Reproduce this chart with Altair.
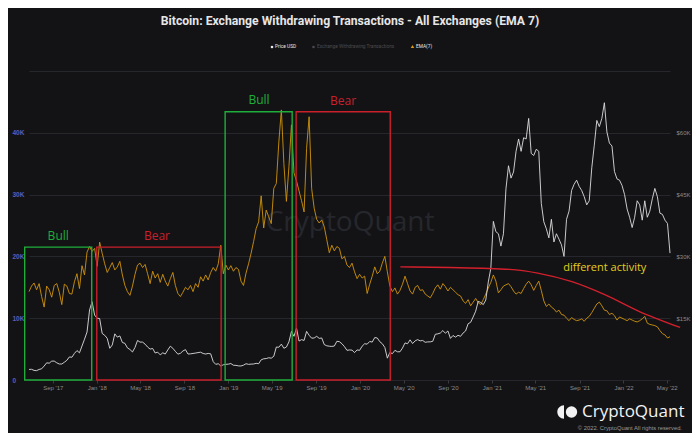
import altair as alt
import pandas as pd

TITLE = "Bitcoin: Exchange Withdrawing Transactions - All Exchanges (EMA 7)"

# weekly sample dates (Tuesdays) from first to last point of the chart
week_dates = pd.date_range("2017-06-27", periods=255, freq="7D").strftime("%Y-%m-%d").tolist()

# EMA(7) of exchange withdrawing transactions, thousands (left axis)
ema_k = [
    14.3, 15.2, 15.7, 14.6, 15.6, 13.5, 11.8, 15.2, 14.6, 13.4,
    15.3, 15.6, 14.2, 12.2, 15.5, 15.2, 14.0, 13.9, 15.9, 17.2,
    14.8, 18.5, 17.0, 20.7, 21.6, 20.8, 21.3, 18.4, 22.3, 20.5,
    18.8, 17.4, 18.2, 19.0, 17.8, 18.3, 19.2, 17.0, 15.3, 14.3,
    13.7, 15.2, 17.1, 18.6, 18.9, 18.2, 18.7, 17.2, 15.6, 17.6,
    16.5, 17.2, 15.8, 17.1, 16.0, 15.2, 16.4, 17.4, 15.3, 14.0,
    13.5, 14.2, 15.0, 14.6, 15.3, 14.3, 15.6, 15.0, 16.7, 16.0,
    17.0, 16.2, 17.4, 18.2, 17.6, 18.8, 21.8, 17.2, 18.6, 17.8,
    18.5, 17.6, 18.2, 17.9, 16.0, 15.3, 17.3, 18.8, 20.5, 22.4,
    24.5, 25.6, 29.8, 24.6, 27.5, 26.4, 25.3, 31.0, 31.8, 38.5,
    43.7, 35.0, 28.9, 34.5, 41.3, 33.5, 32.2, 30.6, 29.0, 27.2,
    37.5, 42.6, 31.0, 27.8, 26.0, 25.4, 25.9, 24.8, 22.7, 20.6,
    21.8, 20.9, 21.6, 21.3, 19.6, 20.0, 18.6, 18.2, 18.9, 17.5,
    16.4, 17.1, 16.5, 16.8, 14.0, 15.5, 16.8, 18.3, 17.2, 17.6,
    18.9, 20.0, 17.5, 15.2, 14.3, 14.9, 13.9, 14.5, 15.5, 16.8,
    15.6, 14.4, 13.9, 15.0, 15.3, 14.5, 14.6, 13.9, 13.6, 13.3,
    14.0, 14.9, 15.4, 14.7, 15.6, 15.1, 14.4, 15.0, 14.6, 14.2,
    13.8, 13.6, 12.8, 12.4, 13.0, 12.0, 12.6, 13.2, 12.5, 12.2,
    13.0, 13.9, 14.9, 15.8, 17.0, 16.0, 14.1, 14.6, 15.2, 15.4,
    15.6, 15.1, 14.4, 13.9, 14.2, 14.0, 14.8, 15.5, 16.0, 15.4,
    14.5, 15.3, 16.0, 14.5, 12.8, 11.9, 12.3, 11.8, 11.5, 11.0,
    11.3, 10.6, 10.5, 10.0, 9.6, 10.1, 9.8, 9.6, 9.7, 9.9,
    9.5, 10.0, 10.3, 10.9, 11.6, 12.3, 12.6, 12.0, 11.3, 11.2,
    10.6, 10.8, 10.4, 9.7, 10.2, 10.0, 9.8, 9.6, 9.9, 9.7,
    9.5, 9.4, 9.6, 9.9, 10.3, 9.2, 9.0, 8.9, 8.8, 8.6,
    8.0, 7.5, 7.3, 6.8, 7.0,
]

# Price USD (right axis), weekly
price_2017 = [2560, 2600, 2330, 2270, 2560, 2720, 3390, 4170, 4080, 4580, 4590, 4170, 3880, 3880,
              4310, 4770, 5600, 5520, 6450, 7140, 6600, 8250, 9900, 11650, 17000, 19000, 15750]
price_2018 = [15000, 14900, 11300, 10850, 10100, 7700, 8500, 11200, 10400, 10700, 9100, 8900, 7800,
              7400, 6800, 7900, 9600, 9200, 9200, 8700, 8000, 7500, 7650, 6550, 6750, 6100,
              6600, 6300, 7300, 8200, 7700, 6950, 6270, 6480, 7050, 7370, 6300, 6350, 6440,
              6540, 6650, 6750, 6430, 6300, 6450, 6350, 4450, 3800, 3950, 3400, 3700, 3800]
price_2019 = [3850, 4000, 3580, 3550, 3430, 3400, 3600, 3950, 3800, 3850, 3880, 4050, 3950,
              4900, 5150, 5200, 5400, 5300, 5750, 8000, 7950, 8700, 7700, 8000, 9250, 11800,
              10600, 12600, 9450, 9800, 9600, 11800, 10850, 10150, 10200, 10600, 10100, 10200, 8600,
              8300, 8200, 8150, 8250, 9400, 9300, 8800, 8100, 7200, 7300, 7250, 6650, 7300, 7200]
price_2020 = [8200, 8800, 8700, 9350, 9200, 10300, 10200, 9300, 8800, 7900, 5300, 6700, 6400,
              7200, 6850, 6850, 7750, 9000, 8800, 9750, 8850, 9500, 9800, 9500, 9600, 9150,
              9250, 9250, 9400, 11100, 11200, 11400, 12000, 11350, 11900, 10100, 10800, 10400, 10850,
              10600, 11400, 11900, 13650, 14000, 15300, 16700, 19100, 18800, 18300, 19400, 23800, 27100]
price_2021 = [38500, 36000, 35500, 32500, 35500, 46400, 52000, 49000, 50500, 55500, 58500, 55500, 58800,
              58500, 63500, 55000, 54500, 56000, 55500, 42900, 38400, 36700, 34500, 39000, 33500, 35500,
              34200, 32800, 30000, 39000, 41000, 46000, 47500, 48500, 47000, 46000, 44500, 42500, 43500,
              51500, 57000, 63000, 61500, 63500, 67300, 60200, 57500, 56800, 50600, 48800, 48500, 47200]
price_2022 = [45000, 41500, 39500, 37000, 39500, 43500, 42500, 38800, 43500, 39500, 41000, 44000, 46500,
              44500, 40500, 40200, 38800, 38000, 30800]

price_usd = price_2017 + price_2018 + price_2019 + price_2020 + price_2021 + price_2022
n = min(len(week_dates), len(ema_k), len(price_usd))
df = pd.DataFrame({
    "date": week_dates[:n],
    "ema": [v * 1000 for v in ema_k[:n]],
    "price": price_usd[:n],
})

# annotation boxes
box_start = ["2017-06-15", "2018-01-01", "2018-12-23", "2019-07-08"]
box_end = ["2017-12-18", "2018-12-12", "2019-06-27", "2020-03-25"]
box_top = [21500, 21500, 43400, 43400]
box_color = ["#1fae3a", "#c9202b", "#1fae3a", "#c9202b"]
box_label = ["Bull", "Bear", "Bull", "Bear"]
label_date = ["2017-09-16", "2018-06-17", "2019-03-27", "2019-11-15"]
label_value = [23300, 23300, 45300, 45200]
boxes = pd.DataFrame({"s": box_start, "e": box_end, "top": box_top, "bottom": [0] * 4,
                      "c": box_color, "lab": box_label, "ld": label_date, "lv": label_value})

curve_dates = ["2020-04-22", "2020-09-06", "2021-02-19", "2021-05-08", "2021-08-11",
               "2021-11-10", "2022-02-10", "2022-06-07"]
curve_vals = [18300, 18200, 17900, 17300, 15900, 13800, 11200, 8500]
curve = pd.DataFrame({"d": curve_dates, "v": curve_vals})

note = pd.DataFrame({"d": ["2021-07-18"], "v": [18100], "t": ["different activity"]})

tick_months = [(2017, 9), (2018, 1), (2018, 5), (2018, 9), (2019, 1), (2019, 5), (2019, 9),
               (2020, 1), (2020, 5), (2020, 9), (2021, 1), (2021, 5), (2021, 9), (2022, 1), (2022, 5)]

BG = "#131316"
GRID = "#26272c"
AXF = "Liberation Sans"
TF = "Roboto"

x_dom = [alt.DateTime(year=2017, month=6, date=27, utc=True),
         alt.DateTime(year=2022, month=5, date=10, utc=True)]


def xs():
    return alt.Scale(type="utc", domain=x_dom)


left_scale = alt.Scale(domain=[0, 50000], nice=False, zero=True)
right_scale = alt.Scale(domain=[0, 75000], nice=False, zero=True)

x_main = alt.X("date:T", scale=xs(), title=None,
               axis=alt.Axis(values=[alt.DateTime(year=y, month=m, date=1, utc=True) for y, m in tick_months],
                             format="%b '%y", labelColor="#8a8a8a", labelFontSize=6, labelFont=AXF,
                             tickSize=3, tickColor="#3a3b40", domain=False, grid=False,
                             labelPadding=1, labelFlush=False))

ema_line = alt.Chart(df).mark_line(color="#d0940c", strokeWidth=0.9).encode(
    x=x_main,
    y=alt.Y("ema:Q", scale=left_scale, title=None,
            axis=alt.Axis(orient="left", values=[0, 10000, 20000, 30000, 40000, 50000],
                          labelExpr="datum.value == 0 ? '0' : (datum.value >= 50000 ? '' : format(datum.value / 1000, 'd') + 'K')",
                          grid=True, gridColor=GRID, gridWidth=1, domain=False, ticks=False,
                          labelAlign="left", labelPadding=17, labelColor="#5d5fb3",
                          labelFontSize=6.5, labelFontWeight="bold", labelFont=AXF)),
)

price_line = alt.Chart(df).mark_line(color="#dedede", strokeWidth=0.9).encode(
    x=alt.X("date:T", scale=xs()),
    y=alt.Y("price:Q", scale=right_scale, title=None,
            axis=alt.Axis(orient="right", values=[15000, 30000, 45000, 60000],
                          labelExpr="'$' + format(datum.value / 1000, 'd') + 'K'",
                          grid=False, domain=False, ticks=False, labelAlign="left", labelPadding=6,
                          labelColor="#8a8a8a", labelFontSize=6, labelFont=AXF)),
)

box_rects = alt.Chart(boxes).mark_rect(filled=False, strokeWidth=1.4).encode(
    x=alt.X("s:T", scale=xs()), x2="e:T",
    y=alt.Y("top:Q", scale=left_scale, axis=None), y2="bottom:Q",
    stroke=alt.Stroke("c:N", scale=None),
)

box_text = alt.Chart(boxes).mark_text(fontSize=12, font="Open Sans", baseline="middle").encode(
    x=alt.X("ld:T", scale=xs()),
    y=alt.Y("lv:Q", scale=left_scale, axis=None),
    text="lab:N",
    color=alt.Color("c:N", scale=None),
)

curve_line = alt.Chart(curve).mark_line(color="#d4202c", strokeWidth=1.3, interpolate="monotone").encode(
    x=alt.X("d:T", scale=xs()),
    y=alt.Y("v:Q", scale=left_scale, axis=None),
)

note_text = alt.Chart(note).mark_text(fontSize=11, font="Open Sans", align="left", baseline="middle",
                                      color="#e3cf1c").encode(
    x=alt.X("d:T", scale=xs()),
    y=alt.Y("v:Q", scale=left_scale, axis=None),
    text="t:N",
)

watermark = alt.Chart(pd.DataFrame({"t": ["CryptoQuant"]})).mark_text(
    fontSize=28, font="Open Sans", color="#26272c", align="center", baseline="middle").encode(
    text="t:N", x=alt.value(321), y=alt.value(152))

title = alt.Chart(pd.DataFrame({"t": [TITLE]})).mark_text(
    fontSize=12.2, font=TF, fontWeight="bold", color="#e6e6e6",
    align="center", baseline="middle").encode(text="t:N", x=alt.value(321), y=alt.value(-50))

leg_txt = pd.DataFrame({"t": ["Price USD", "Exchange Withdrawing Transactions", "EMA(7)"],
                        "c": ["#e6e6e6", "#4a4b50", "#e6e6e6"]})
legend_layers = []
for i, xp in enumerate([246, 288, 387]):
    legend_layers.append(
        alt.Chart(leg_txt.iloc[[i]]).mark_text(fontSize=4.8, font=TF, align="left",
                                               baseline="middle").encode(
            text="t:N", color=alt.Color("c:N", scale=None), x=alt.value(xp), y=alt.value(-24)))
leg_sym = pd.DataFrame({"k": ["a", "b", "c"]})
legend_layers.append(alt.Chart(leg_sym.iloc[[0]]).mark_point(filled=True, size=7, color="#e6e6e6", opacity=1).encode(
    x=alt.value(243), y=alt.value(-24)))
legend_layers.append(alt.Chart(leg_sym.iloc[[1]]).mark_point(filled=True, size=7, color="#4a4b50", opacity=1).encode(
    x=alt.value(284.5), y=alt.value(-24)))
legend_layers.append(alt.Chart(leg_sym.iloc[[2]]).mark_point(filled=True, size=12, shape="triangle-up",
                                                             color="#e09a10", opacity=1).encode(
    x=alt.value(383.5), y=alt.value(-24.5)))

logo_half = alt.Chart(pd.DataFrame({"k": ["h"]})).mark_point(
    filled=True, size=180, shape="M0,-1 A1,1 0 0,0 0,1 Z", color="#f2f2f2", opacity=1).encode(
    x=alt.value(535), y=alt.value(341))
logo_circ = alt.Chart(pd.DataFrame({"k": ["c"]})).mark_point(
    filled=True, size=130, shape="circle", color="#f2f2f2", opacity=1).encode(
    x=alt.value(542.5), y=alt.value(341))
logo_text = alt.Chart(pd.DataFrame({"t": ["CryptoQuant"]})).mark_text(
    fontSize=17, font="Open Sans", color="#f2f2f2", align="left", baseline="middle").encode(
    text="t:N", x=alt.value(553), y=alt.value(341))
copy_text = alt.Chart(pd.DataFrame({"t": ["\u00a9 2022. CryptoQuant All rights reserved."]})).mark_text(
    fontSize=5.8, font="Liberation Sans", color="#9a9a9a", align="right", baseline="middle").encode(
    text="t:N", x=alt.value(653), y=alt.value(357))

chart = alt.layer(
    watermark, ema_line, price_line, box_rects, box_text, curve_line, note_text,
    title, *legend_layers, logo_half, logo_circ, logo_text, copy_text,
).resolve_scale(y="independent").properties(
    width=641, height=309,
    padding={"left": 21, "top": 63, "right": 22, "bottom": 53},
    autosize=alt.AutoSizeParams(type="none"),
    background=BG,
).configure_view(stroke=None)

chart.save("out.html", embed_options={"renderer": "svg", "actions": False})
